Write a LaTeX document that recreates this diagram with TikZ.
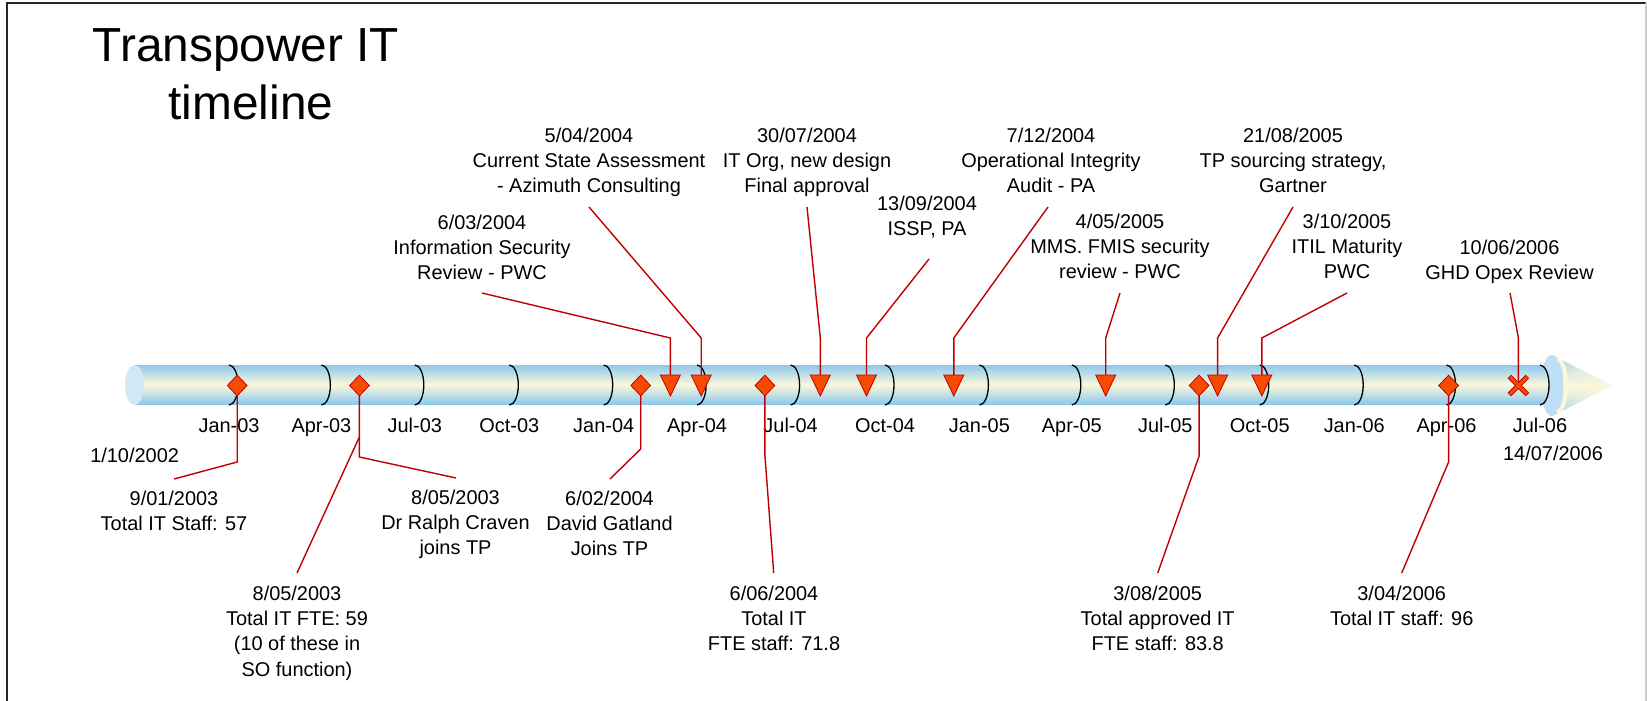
\documentclass[tikz,border=0pt]{standalone}
\usepackage{fontspec}
\setmainfont{Liberation Sans}
\usetikzlibrary{shapes.geometric,fadings}
\definecolor{tubeblue}{RGB}{141,200,238}
\definecolor{cream}{RGB}{251,248,219}
\definecolor{capblue}{RGB}{211,232,245}
\definecolor{rimblue}{RGB}{190,223,244}
\definecolor{mkfill}{RGB}{248,74,0}
\definecolor{mkline}{RGB}{192,0,0}
\tikzfading[name=fadeinright, left color=transparent!100, right color=transparent!0]
\tikzset{
  lbl/.style={font=\fontsize{20}{25.5}\selectfont, align=center, inner sep=0pt, anchor=north, yshift=17.85bp},
  con/.style={draw=mkline, line width=1.4bp},
  tk/.style={draw=black, line width=1.3bp},
  dia/.style={diamond, draw=mkline, fill=mkfill, line width=0.8bp, minimum width=20bp, minimum height=21bp, inner sep=0pt},
  tri/.pic={\filldraw[draw=mkline, fill=mkfill, line width=0.8bp] (-10,-10.5) -- (10,-10.5) -- (0,10.5) -- cycle;},
  xmk/.pic={\draw[mkline, line width=5bp] (-9,-9) -- (9,9) (-9,9) -- (9,-9);
            \draw[mkfill, line width=3bp] (-8.4,-8.4) -- (8.4,8.4) (-8.4,8.4) -- (8.4,-8.4);},
  ttl/.style={font=\fontsize{48}{57}\selectfont, anchor=base, inner sep=0pt}
}
\begin{document}
\begin{tikzpicture}[x=1bp,y=-1bp]
\useasboundingbox (0,0) rectangle (1647,701);
% frame
\draw[black!85, line width=2bp] (7,705) -- (7,3) -- (1646,3);
\draw[gray!40, line width=1.5bp] (1646,3) -- (1646,705);

% title
\node[ttl] (t1) at (246,62) {Transpower IT};
\node[ttl] (t2) at (251,120) {timeline};

% cone (arrow head): vertical gradient by strips, cream towards the tip
\begin{scope}
  \clip (1552,355) -- (1612,385.5) -- (1552,416) arc[start angle=90, end angle=270, x radius=11, y radius=30.5] -- cycle;
  \foreach \i in {0,...,61}{
    \pgfmathsetmacro\p{100*(1-abs(\i-30.5)/30.5)}
    \fill[cream!\p!tubeblue] (1538,355+\i) rectangle (1615,356.4+\i);
  }
  \fill[cream, path fading=fadeinright] (1552,355) rectangle (1612,416);
\end{scope}
\fill[rimblue] (1552,385.5) ellipse[x radius=11, y radius=30.5];
\draw[cream, line width=4bp] (1557,359) arc[start angle=-90, end angle=90, x radius=9, y radius=26.5];

% tube: vertical gradient by strips
\begin{scope}
  \clip (134.5,365) -- (1540,365) arc[start angle=-90, end angle=90, x radius=9, y radius=20] -- (134.5,405) -- cycle;
  \foreach \i in {0,...,39}{
    \pgfmathsetmacro\p{100*(1-abs(\i-19.5)/19.5)}
    \fill[cream!\p!tubeblue] (130,365+\i) rectangle (1552,366.4+\i);
  }
\end{scope}
\fill[capblue] (134.5,385) ellipse[x radius=9.5, y radius=20];

% quarter ticks and labels
\foreach \x/\t [count=\i] in {229/Jan-03, 321.4/Apr-03, 414.8/Jul-03, 509.3/Oct-03, 603.7/Jan-04,
  697.1/Apr-04, 790.6/Jul-04, 885.0/Oct-04, 979.4/Jan-05, 1071.8/Apr-05, 1165.3/Jul-05,
  1259.7/Oct-05, 1354.2/Jan-06, 1446.5/Apr-06, 1540.0/Jul-06}{
  \draw[tk] (\x,365) arc[start angle=-90, end angle=90, x radius=9, y radius=20];
  \node[lbl] (q\i) at (\x,432) {\strut\t};
}

% end labels
\node[lbl] (startlbl) at (134.6,462) {\strut 1/10/2002};
\node[lbl] (endlbl) at (1553,460) {\strut 14/07/2006};

% marker positions
\coordinate (mA) at (701.2,385.5);
\coordinate (mB) at (670.4,385.5);
\coordinate (mC) at (820.3,385.5);
\coordinate (mD) at (866.5,385.5);
\coordinate (mE) at (953.8,385.5);
\coordinate (mF) at (1105.7,385.5);
\coordinate (mG) at (1217.6,385.5);
\coordinate (mH) at (1261.8,385.5);
\coordinate (mI) at (1518.4,385.5);
\coordinate (mJ) at (237.2,385.5);
\coordinate (mK) at (359.4,385.5);
\coordinate (mM) at (640.7,385.5);
\coordinate (mN) at (764.9,385.5);
\coordinate (mO) at (1199.1,385.5);
\coordinate (mP) at (1448.6,385.5);

% top labels
\node[lbl] (lA) at (589,142) {\strut 5/04/2004\\Current State Assessment\\- Azimuth Consulting};
\node[lbl] (lB) at (482,229) {\strut 6/03/2004\\Information Security\\Review - PWC};
\node[lbl] (lC) at (807,142) {\strut 30/07/2004\\IT Org, new design\\Final approval};
\node[lbl] (lD) at (927,210) {\strut 13/09/2004\\ISSP, PA};
\node[lbl] (lE) at (1051,142) {\strut 7/12/2004\\Operational Integrity\\Audit - PA};
\node[lbl] (lF) at (1120,228) {\strut 4/05/2005\\MMS. FMIS security\\review - PWC};
\node[lbl] (lG) at (1293,142) {\strut 21/08/2005\\TP sourcing strategy,\\Gartner};
\node[lbl] (lH) at (1347,228) {\strut 3/10/2005\\ITIL Maturity\\PWC};
\node[lbl] (lI) at (1509.5,254) {\strut 10/06/2006\\GHD Opex Review};

% bottom labels
\node[lbl] (lJ) at (174,505) {\strut 9/01/2003\\Total IT Staff: 57};
\node[lbl] (lK) at (455.5,504) {\strut 8/05/2003\\Dr Ralph Craven\\joins TP};
\node[lbl] (lL) at (297,600) {\strut 8/05/2003\\Total IT FTE: 59\\(10 of these in\\SO function)};
\node[lbl] (lM) at (609.5,505) {\strut 6/02/2004\\David Gatland\\Joins TP};
\node[lbl] (lN) at (774,600) {\strut 6/06/2004\\Total IT\\FTE staff: 71.8};
\node[lbl] (lO) at (1157.7,600) {\strut 3/08/2005\\Total approved IT\\FTE staff: 83.8};
\node[lbl] (lP) at (1401.7,600) {\strut 3/04/2006\\Total IT staff: 96};

% connector end points
\coordinate (sA) at (589,207);   \coordinate (bA) at (701.2,338);
\coordinate (sB) at (482,293);   \coordinate (bB) at (670.4,338);
\coordinate (sC) at (807,207);   \coordinate (bC) at (820.3,338);
\coordinate (sD) at (929,259);   \coordinate (bD) at (866.5,338);
\coordinate (sE) at (1048,207);  \coordinate (bE) at (953.8,338);
\coordinate (sF) at (1120,293);  \coordinate (bF) at (1105.7,338);
\coordinate (sG) at (1293,207);  \coordinate (bG) at (1217.6,338);
\coordinate (sH) at (1347,293);  \coordinate (bH) at (1261.8,338);
\coordinate (sI) at (1510,293);  \coordinate (bI) at (1518.4,338);
\coordinate (bJ) at (237.2,462);  \coordinate (eJ) at (174,479);
\coordinate (bK) at (359.4,457);  \coordinate (eK) at (456,478);
\coordinate (sL) at (359.4,437);  \coordinate (eL) at (297,573);
\coordinate (bM) at (640.7,449);  \coordinate (eM) at (610,479);
\coordinate (bN) at (764.9,455);  \coordinate (eN) at (773.7,573);
\coordinate (bO) at (1199.1,456); \coordinate (eO) at (1157.7,573);
\coordinate (bP) at (1448.6,462); \coordinate (eP) at (1401.7,573);

% connectors
\foreach \k in {A,B,C,D,E,F,G,H,I}{\draw[con] (s\k) -- (b\k) -- (m\k);}
\foreach \k in {J,K,M,N,O,P}{\draw[con] (m\k) -- (b\k) -- (e\k);}
\draw[con] (sL) -- (eL);

% markers
\foreach \k in {A,B,C,D,E,F,G,H}{\pic at (m\k) {tri};}
\pic at (mI) {xmk};
\foreach \k in {J,K,M,N,O,P}{\node[dia] (d\k) at (m\k) {};}
\end{tikzpicture}
\end{document}
